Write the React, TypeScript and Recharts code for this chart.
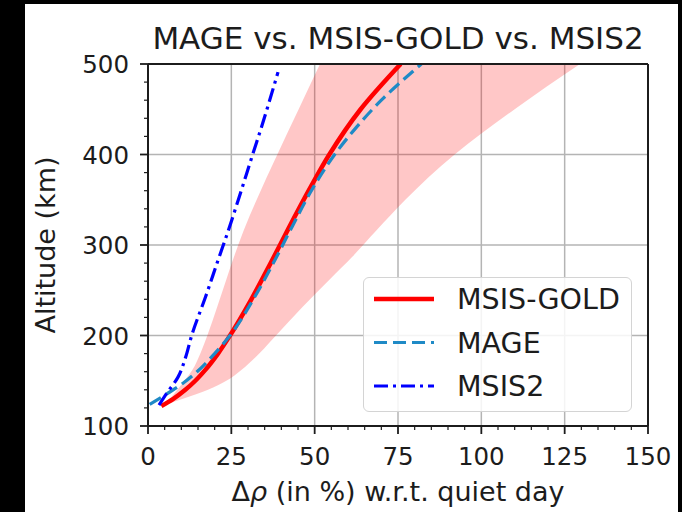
import React from "react";
import {
  ComposedChart,
  Area,
  Line,
  XAxis,
  YAxis,
  CartesianGrid,
  ReferenceLine,
  Legend,
} from "recharts";

// altitude (km) vs. density change (%) w.r.t. quiet day
const goldAlt = [122, 130, 140, 150, 162, 180, 200, 240, 280, 320, 360, 400, 450, 500];
const goldDrho = [4, 7.6, 11.2, 14.2, 17.2, 21, 24.6, 31, 36.8, 42.4, 48.2, 54.4, 63.8, 75.8];

const mageAlt = [124, 134, 147, 160, 180, 200, 240, 280, 320, 360, 400, 430, 460, 500];
const mageDrho = [0.5, 5, 10.4, 14.7, 20, 24.6, 31.6, 37.6, 43.2, 49, 56, 62.5, 70, 82];

const msis2Alt = [123, 136, 154, 175, 200, 243, 283, 316, 350, 400, 431, 491];
const msis2Drho = [3.3, 5.6, 9, 11.2, 13.1, 17.3, 21, 24.1, 27.1, 31.4, 34.1, 39];

const bandAlt = [122, 130, 140, 150, 162, 181, 200, 232, 262, 287, 316, 350, 400, 450, 500];
const bandLow = [4, 6.5, 8.8, 10.9, 13.3, 15.8, 17.8, 20.8, 23.5, 25.8, 28.7, 32.6, 38.8, 45.2, 51.6];
const bandHigh = [4, 10.5, 18, 23.5, 28, 33.6, 38.4, 46.5, 54.5, 61.3, 68.5, 77.2, 92, 110, 129.6];

const xMajor = [0, 25, 50, 75, 100, 125, 150];
const xTicks = [0, 5, 10, 15, 20, 25, 30, 35, 40, 45, 50, 55, 60, 65, 70, 75, 80, 85, 90, 95, 100, 105, 110, 115, 120, 125, 130, 135, 140, 145, 150];
const yMajor = [100, 200, 300, 400, 500];
const yTicks = [100, 120, 140, 160, 180, 200, 220, 240, 260, 280, 300, 320, 340, 360, 380, 400, 420, 440, 460, 480, 500];

const goldData = goldAlt.map((alt, i) => ({ alt, v: goldDrho[i] }));
const mageData = mageAlt.map((alt, i) => ({ alt, v: mageDrho[i] }));
const msis2Data = msis2Alt.map((alt, i) => ({ alt, v: msis2Drho[i] }));
const bandData = bandAlt.map((alt, i) => ({ alt, band: [bandLow[i], bandHigh[i]] }));

const ink = "#1c1c1c";
const font = "DejaVu Sans";

const series = [
  { name: "MSIS-GOLD", color: "#ff0000", width: 4.5, dash: undefined },
  { name: "MAGE", color: "#1f8ac6", width: 3.2, dash: "13 6" },
  { name: "MSIS2", color: "#0000ff", width: 3.2, dash: "14 5 3 5" },
];

const XTick = (props: any) => {
  const { x, y, payload } = props;
  const major = xMajor.includes(payload.value);
  return (
    <g>
      <line x1={x} x2={x} y1={y} y2={y + (major ? 8 : 4)} stroke={ink} strokeWidth={major ? 1.8 : 1.2} />
      {major && (
        <text x={x} y={y + 39} textAnchor="middle" fontSize={24.5} fontFamily={font} fill={ink}>
          {payload.value}
        </text>
      )}
    </g>
  );
};

const YTick = (props: any) => {
  const { x, y, payload } = props;
  const major = yMajor.includes(payload.value);
  return (
    <g>
      <line x1={x} x2={x - (major ? 8 : 4)} y1={y} y2={y} stroke={ink} strokeWidth={major ? 1.8 : 1.2} />
      {major && (
        <text x={x - 19} y={y + 9} textAnchor="end" fontSize={24.5} fontFamily={font} fill={ink}>
          {payload.value}
        </text>
      )}
    </g>
  );
};

const LegendBox = () => (
  <div
    style={{
      width: 269,
      height: 135,
      boxSizing: "border-box",
      border: "1.5px solid #d4d4d4",
      borderRadius: 6,
      background: "rgba(255,255,255,0.85)",
    }}
  >
    <svg width={266} height={132}>
      {series.map((s, i) => (
        <g key={s.name}>
          <line
            x1={10}
            x2={70}
            y1={21 + i * 43.5}
            y2={21 + i * 43.5}
            stroke={s.color}
            strokeWidth={s.width}
            strokeDasharray={s.dash}
          />
          <text x={93} y={21 + i * 43.5 + 10} fontSize={28.5} fontFamily={font} fill={ink}>
            {s.name}
          </text>
        </g>
      ))}
    </svg>
  </div>
);

export default function App() {
  return (
    <div style={{ position: "absolute", left: 0, top: 0, width: 682, height: 512, background: "#000", overflow: "hidden" }}>
      <div style={{ position: "absolute", left: 25, top: 4, width: 653, height: 508, background: "#fff" }} />
      <div
        style={{
          position: "absolute",
          left: 148,
          width: 500,
          top: 20,
          textAlign: "center",
          fontFamily: font,
          fontSize: 31,
          color: ink,
          whiteSpace: "nowrap",
        }}
      >
        MAGE vs. MSIS-GOLD vs. MSIS2
      </div>
      <div style={{ position: "absolute", left: 0, top: 0 }}>
        <ComposedChart
          width={682}
          height={512}
          layout="vertical"
          margin={{ top: 64, right: 34, bottom: 26, left: 88 }}
        >
          <CartesianGrid
            stroke="#b4b4b4"
            strokeWidth={1.5}
            verticalValues={xMajor}
            horizontalValues={yMajor}
          />
          <XAxis
            type="number"
            dataKey="v"
            domain={[0, 150]}
            ticks={xTicks}
            interval={0}
            allowDataOverflow
            height={60}
            tickSize={0}
            tickMargin={0}
            tickLine={false}
            tick={<XTick />}
            axisLine={{ stroke: ink, strokeWidth: 2 }}
            label={{
              position: "bottom",
              content: (p: any) => {
                const vb = p.viewBox;
                return (
                  <text
                    x={vb.x + vb.width / 2}
                    y={vb.y + 75}
                    textAnchor="middle"
                    fontSize={27}
                    fontFamily={font}
                    fill={ink}
                  >
                    Δ<tspan fontStyle="italic">ρ</tspan> (in %) w.r.t. quiet day
                  </text>
                );
              },
            }}
          />
          <YAxis
            type="number"
            dataKey="alt"
            domain={[100, 500]}
            reversed
            ticks={yTicks}
            interval={0}
            allowDataOverflow
            width={60}
            tickSize={0}
            tickMargin={0}
            tickLine={false}
            tick={<YTick />}
            axisLine={{ stroke: ink, strokeWidth: 2 }}
            label={{
              position: "left",
              content: (p: any) => {
                const vb = p.viewBox;
                const cx = 45;
                const cy = vb.y + vb.height / 2;
                return (
                  <text
                    x={cx}
                    y={cy}
                    transform={`rotate(-90 ${cx} ${cy})`}
                    textAnchor="middle"
                    dominantBaseline="central"
                    fontSize={27}
                    fontFamily={font}
                    fill={ink}
                  >
                    Altitude (km)
                  </text>
                );
              },
            }}
          />
          <Area
            data={bandData}
            dataKey="band"
            type="monotone"
            stroke="none"
            fill="#ff0000"
            fillOpacity={0.22}
            isAnimationActive={false}
            legendType="none"
          />
          <Line
            data={goldData}
            dataKey="v"
            name={series[0].name}
            type="monotone"
            stroke={series[0].color}
            strokeWidth={series[0].width}
            dot={false}
            isAnimationActive={false}
          />
          <Line
            data={mageData}
            dataKey="v"
            name={series[1].name}
            type="monotone"
            stroke={series[1].color}
            strokeWidth={series[1].width}
            strokeDasharray={series[1].dash}
            dot={false}
            isAnimationActive={false}
          />
          <Line
            data={msis2Data}
            dataKey="v"
            name={series[2].name}
            type="monotone"
            stroke={series[2].color}
            strokeWidth={series[2].width}
            strokeDasharray={series[2].dash}
            dot={false}
            isAnimationActive={false}
          />
          <ReferenceLine x={150} stroke={ink} strokeWidth={2} />
          <ReferenceLine y={500} stroke={ink} strokeWidth={2} />
          <Legend
            layout="horizontal"
            verticalAlign="middle"
            align="center"
            wrapperStyle={{ left: 363, top: 277, width: 269, height: 135 }}
            content={() => <LegendBox />}
          />
        </ComposedChart>
      </div>
    </div>
  );
}
